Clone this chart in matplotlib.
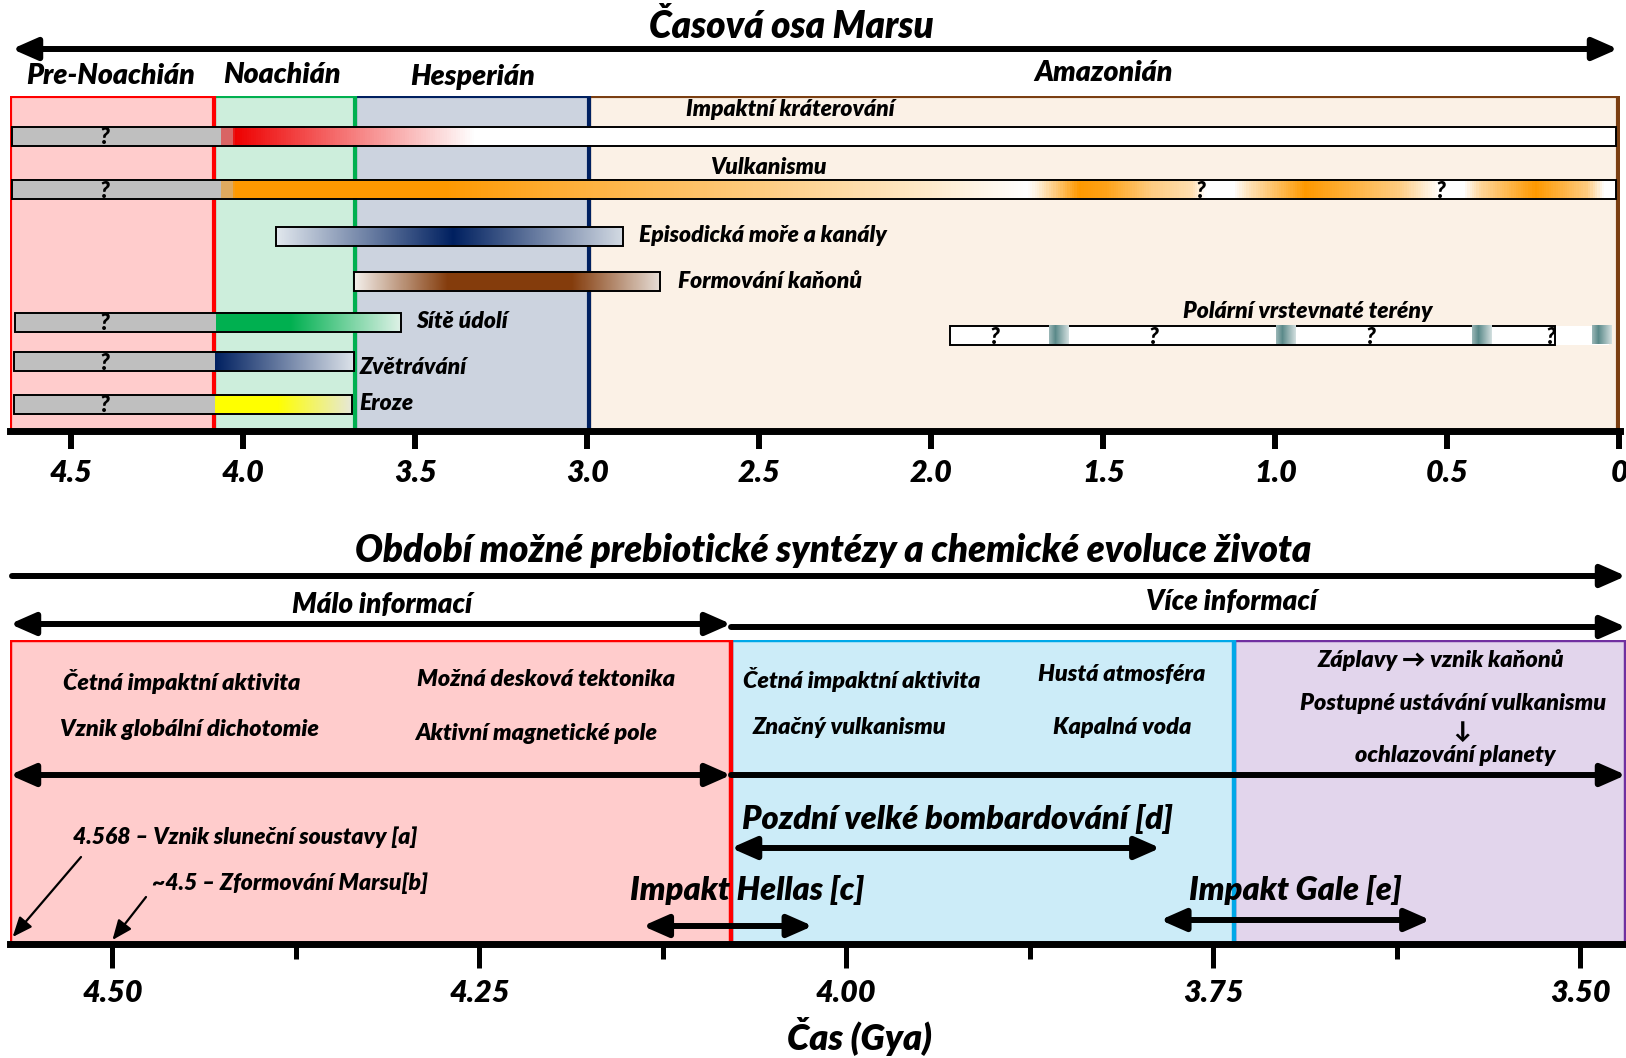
import matplotlib
matplotlib.use('Agg')
import matplotlib.pyplot as plt
import matplotlib.transforms as mtransforms
from matplotlib.patches import Rectangle, FancyArrowPatch
from matplotlib.colors import to_rgb, to_hex
import numpy as np

plt.rcParams['font.family'] = ['Lato', 'DejaVu Sans']
plt.rcParams['font.weight'] = 'heavy'
plt.rcParams['font.style'] = 'italic'

W, H = 1626, 1058

# ---- top panel: Mars periods (Gya) ----
periods = ['Pre-Noachián', 'Noachián', 'Hesperián', 'Amazonián']
period_start = [4.678, 4.085, 3.675, 2.996]
period_end = [4.085, 3.675, 2.996, 0.005]
period_fill = ['#FFCCCC', '#CDEEDC', '#CCD3DF', '#FBF1E6']
period_edge = ['#FF0000', '#00B050', '#002060', '#7B3F12']
top_ticks = [4.5, 4.0, 3.5, 3.0, 2.5, 2.0, 1.5, 1.0, 0.5, 0.0]
top_tick_labels = ['4.5', '4.0', '3.5', '3.0', '2.5', '2.0', '1.5', '1.0', '0.5', '0']

bar_labels = ['Impaktní kráterování', 'Vulkanismu', 'Episodická moře a kanály',
              'Formování kaňonů', 'Sítě údolí', 'Zvětrávání', 'Eroze']
bar_start = [4.672, 4.672, 3.905, 3.678, 4.664, 4.667, 4.667]
bar_end = [0.01, 0.01, 2.897, 2.789, 3.541, 3.678, 3.684]
bar_unknown_end = [4.065, 4.065, None, None, 4.079, 4.082, 4.082]

impact_t = [4.065, 4.035, 4.030, 3.33, 0.01]
impact_c = ['#D96464', '#D96464', '#EE0000', '#FFFFFF', '#FFFFFF']

volc_t = [4.065, 4.035, 4.03, 3.42, 3.1, 2.5, 2.0, 1.72, 1.69, 1.57, 1.49, 1.36, 1.24,
          1.20, 1.12, 1.07, 0.91, 0.64, 0.52, 0.45, 0.40, 0.24, 0.09, 0.04, 0.01]
volc_level = [0.5, 0.5, 1.0, 1.0, 0.8, 0.5, 0.2, 0.0, 0.15, 1.0, 0.9, 0.5, 0.3,
              0.0, 0.0, 0.3, 1.0, 0.5, 0.0, 0.0, 0.4, 1.0, 0.5, 0.0, 0.0]

seas_t = [3.905, 3.39, 2.897]
seas_c = ['#E2E8EE', '#002060', '#D3DAE3']
canyon_t = [3.678, 3.405, 3.045, 2.789]
canyon_c = ['#F4F0EC', '#843C0C', '#843C0C', '#E6DDD6']
valley_t = [4.079, 3.864, 3.541]
valley_c = ['#00B050', '#00B050', '#E0F2E8']
weather_t = [4.082, 3.678]
weather_c = ['#002060', '#DDE3EA']
erosion_t = [4.082, 3.90, 3.684]
erosion_c = ['#FFFF00', '#FFFF00', '#E6E8D8']

polar_start, polar_end = 1.945, 0.187
polar_stripes = [1.63, 0.97, 0.40, 0.05]
polar_q = [1.818, 1.353, 0.725, 0.199]
volc_q = [1.219, 0.519]

# ---- bottom panel (Gya) ----
zones_start = [4.5698, 4.0785, 3.736]
zones_end = [4.0785, 3.736, 3.4687]
zones_fill = ['#FFCCCC', '#CCECF8', '#E2D5EC']
zones_edge = ['#FF0000', '#00A8E8', '#7030A0']
bot_major = [4.5, 4.25, 4.0, 3.75, 3.5]
bot_major_labels = ['4.50', '4.25', '4.00', '3.75', '3.50']
bot_minor = [4.375, 4.125, 3.875, 3.625]
lhb = (4.0785, 3.786)
hellas = (4.1386, 4.0228)
gale = (3.786, 3.602)
solar_system = 4.568
mars_formed = 4.5


def orange(v):
    w = np.array([1, 1, 1])
    o = np.array(to_rgb('#FF9900'))
    return to_hex(w + (o - w) * v)


volc_c = [orange(v) for v in volc_level]
volc_c[0] = volc_c[1] = '#DFAA5F'

fig = plt.figure(figsize=(W / 100, H / 100), dpi=100)
T = mtransforms.Affine2D().scale(1 / W, -1 / H).translate(0, 1) + fig.transFigure


def fpos(l, t, r, b):
    return [l / W, 1 - b / H, (r - l) / W, (b - t) / H]


def txt(x, y, s, size, ha='center', **kw):
    fig.text(x, y, s, transform=T, fontsize=size, ha=ha, va='center',
             fontweight='heavy', fontstyle='italic', **kw)


def arrow(x0, y0, x1, y1, style='<|-|>', lw=4.3, ms=20, hl=0.75, hw=0.33):
    a = FancyArrowPatch((x0, y0), (x1, y1), transform=T,
                        arrowstyle=f'{style},head_length={hl},head_width={hw}',
                        mutation_scale=ms, lw=lw, color='black',
                        shrinkA=0, shrinkB=0)
    fig.add_artist(a)


def grad(ax, t0, t1, y, st, sc, h=19, z=3):
    xs = np.linspace(t0, t1, 600)
    rgb = np.array([to_rgb(c) for c in sc])
    stx = np.array(st)[::-1]
    img = np.stack([np.interp(xs, stx, rgb[::-1, k]) for k in range(3)], axis=-1)[None]
    ax.imshow(img, extent=(t0, t1, y + h / 2, y - h / 2), aspect='auto',
              interpolation='nearest', zorder=z)


def style_axis(ax):
    ax.patch.set_visible(False)
    for s in ['top', 'left', 'right']:
        ax.spines[s].set_visible(False)
    ax.spines['bottom'].set_linewidth(5)
    ax.tick_params(axis='y', left=False, labelleft=False)


# ================= top panel =================
ax1 = fig.add_axes(fpos(10, 96, 1620, 431))
style_axis(ax1)

for i in [3, 2, 1, 0]:
    ax1.add_patch(Rectangle((period_end[i], 96), period_start[i] - period_end[i], 335,
                            fc=period_fill[i], ec=period_edge[i], lw=3, zorder=1))

bar_y = [136, 189, 236, 281, 322, 361, 404]
grads = [(impact_t, impact_c), (volc_t, volc_c), (seas_t, seas_c), (canyon_t, canyon_c),
         (valley_t, valley_c), (weather_t, weather_c), (erosion_t, erosion_c)]
for i, lab in enumerate(bar_labels):
    y = bar_y[i]
    t0 = bar_start[i]
    if bar_unknown_end[i] is not None:
        ax1.add_patch(Rectangle((bar_unknown_end[i], y - 9.5), t0 - bar_unknown_end[i], 19,
                                fc='#BFBFBF', ec='none', zorder=3))
        t0 = bar_unknown_end[i]
        ax1.text(4.405, y + 2, '?', ha='center', va='center', fontsize=16, zorder=5)
    st, sc = grads[i]
    grad(ax1, t0, bar_end[i], y, st, sc)
    ax1.add_patch(Rectangle((bar_end[i], y - 9.5), bar_start[i] - bar_end[i], 19,
                            fc='none', ec='black', lw=1.4, zorder=4))

for q in volc_q:
    ax1.text(q, bar_y[1] + 2, '?', ha='center', va='center', fontsize=16, zorder=5)

# polar layered terrains
py = 335
ax1.add_patch(Rectangle((polar_end, py - 9.5), polar_start - polar_end, 19,
                        fc='white', ec='black', lw=1.4, zorder=4))
ax1.add_patch(Rectangle((0.03, py - 9.5), polar_end - 0.03, 19, fc='white', ec='none', zorder=3))
for c in polar_stripes:
    grad(ax1, c + 0.028, c - 0.028, py, [c + 0.028, c + 0.01, c - 0.028],
         ['#9DB8B8', '#5B8A8A', '#D4E0E0'], z=5)
for q in polar_q:
    ax1.text(q, py + 2, '?', ha='center', va='center', fontsize=16, zorder=6)

ax1.set_xlim(4.678, -0.002)
ax1.set_ylim(431, 96)
ax1.set_xticks(top_ticks, labels=top_tick_labels)
ax1.tick_params(axis='x', length=13, width=4.3, pad=7, labelsize=22)

txt(791, 27, 'Časová osa Marsu', 26.5)
arrow(12, 49, 1618, 49)
period_lab_pos = [(111, 76), (282, 75), (473, 77), (1104, 73)]
for lab, (x, y) in zip(periods, period_lab_pos):
    txt(x, y, lab, 20.5)

bar_lab_pos = [(790, 110, 'center'), (768, 168, 'center'), (639, 236, 'left'),
               (678, 281, 'left'), (416, 322, 'left'), (360, 368, 'left'), (359, 403, 'left')]
for lab, (x, y, ha) in zip(bar_labels, bar_lab_pos):
    txt(x, y, lab, 16.5, ha=ha)
txt(1308, 311, 'Polární vrstevnaté terény', 16.5)

# ================= bottom panel =================
ax2 = fig.add_axes(fpos(10, 640, 1626, 944))
style_axis(ax2)
for i in [2, 1, 0]:
    ax2.add_patch(Rectangle((zones_end[i], 640), zones_start[i] - zones_end[i], 304,
                            fc=zones_fill[i], ec=zones_edge[i], lw=3.2, zorder=1))
ax2.set_xlim(4.5698, 3.4687)
ax2.set_ylim(944, 640)
ax2.set_xticks(bot_major, labels=bot_major_labels)
ax2.set_xticks(bot_minor, minor=True)
ax2.tick_params(axis='x', which='major', length=17, width=3.6, pad=8, labelsize=22)
ax2.tick_params(axis='x', which='minor', length=11, width=3.6)

ap = dict(color='black', shrinkA=0, shrinkB=0, mutation_scale=20)


def rng(ax, a, b, y, style='<|-|>', lw=4.3):
    ax.annotate('', xy=(b, y), xytext=(a, y), annotation_clip=False,
                arrowprops=dict(arrowstyle=f'{style},head_length=0.75,head_width=0.33', lw=lw, **ap))


rng(ax2, zones_start[0], zones_start[1], 624)
rng(ax2, zones_start[1], zones_end[2], 627, style='-|>')
rng(ax2, zones_start[0], zones_start[1], 775)
rng(ax2, zones_start[1], zones_end[2], 775, style='-|>')
rng(ax2, lhb[0], lhb[1], 848)
rng(ax2, hellas[0], hellas[1], 926)
rng(ax2, gale[0], gale[1], 920)

for t, (x0, y0), y1 in [(solar_system, (81, 857), 937), (mars_formed, (146, 897), 940)]:
    ax2.annotate('', xy=(t, y1), xytext=(x0, y0), textcoords=T, annotation_clip=False,
                 arrowprops=dict(arrowstyle='-|>,head_length=0.6,head_width=0.25',
                                 lw=1.6, **ap))

txt(833, 551, 'Období možné prebiotické syntézy a chemické evoluce života', 26.5)
arrow(12, 576, 1626, 576, style='-|>')
txt(382, 605, 'Málo informací', 20)
txt(1232, 602, 'Více informací', 20)

box_txt = [('Četná impaktní aktivita', 182, 681), ('Možná desková tektonika', 546, 679),
           ('Vznik globální dichotomie', 189, 729), ('Aktivní magnetické pole', 536, 733),
           ('Četná impaktní aktivita', 862, 680), ('Hustá atmosféra', 1122, 675),
           ('Značný vulkanismu', 849, 727), ('Kapalná voda', 1122, 727),
           ('Záplavy → vznik kaňonů', 1441, 660), ('Postupné ustávání vulkanismu', 1453, 703),
           ('↓', 1462, 731), ('ochlazování planety', 1455, 755)]
for s, x, y in box_txt:
    txt(x, y, s, 16.8)

txt(742, 819, 'Pozdní velké bombardování [d]', 23.5, ha='left')
txt(747, 890, 'Impakt Hellas [c]', 23.4)
txt(1295, 890, 'Impakt Gale [e]', 23.4)
txt(73, 837, '4.568 – Vznik sluneční soustavy [a]', 16.5, ha='left')
txt(152, 883, '~4.5 – Zformování Marsu[b]', 16.5, ha='left')
txt(859, 1037, 'Čas (Gya)', 26)

fig.savefig('out.png', dpi=100)
